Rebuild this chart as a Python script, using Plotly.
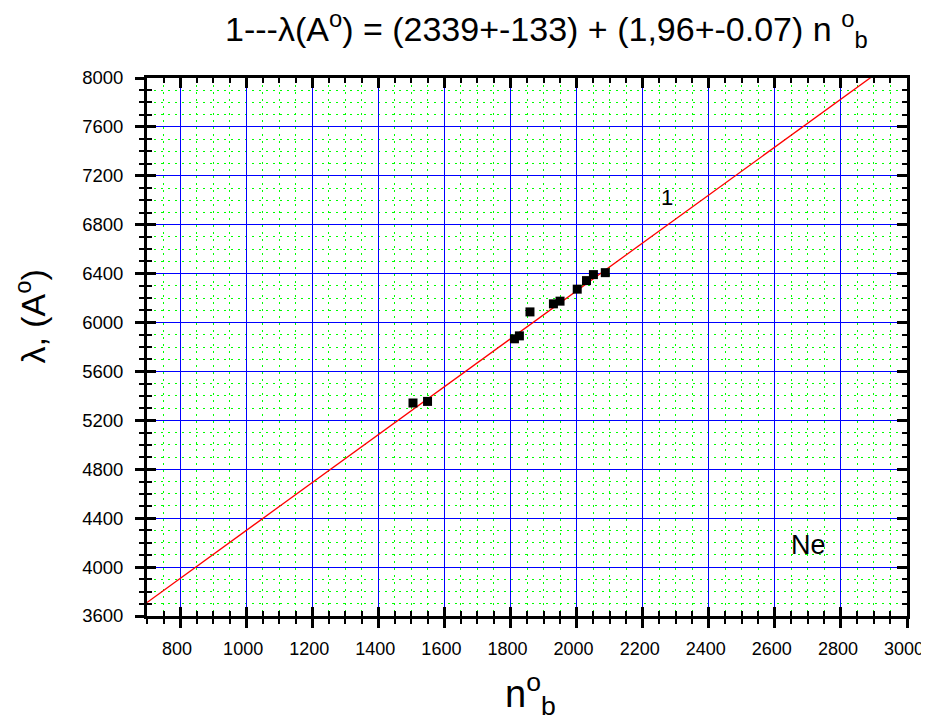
import plotly.graph_objects as go

# Data
n_b = [1505, 1549, 1812, 1827, 1859, 1930, 1950, 2002, 2030, 2051, 2087]
wavelength = [5342, 5355, 5867, 5891, 6087, 6153, 6175, 6273, 6343, 6392, 6408]

# Linear fit stated in the title: lambda = 2339 + 1.96 * n
fit_intercept = 2339
fit_slope = 1.96
fit_x = [700, 3000]
fit_y = [fit_intercept + fit_slope * v for v in fit_x]

x_range = [700, 3000]
y_range = [3600, 8000]

FONT = "Liberation Sans, Arial, sans-serif"

fig = go.Figure()
fig.add_trace(go.Scatter(x=fit_x, y=fit_y, mode="lines",
                         line=dict(color="#ff0000", width=1.3),
                         showlegend=False, hoverinfo="skip"))
fig.add_trace(go.Scatter(x=n_b, y=wavelength, mode="markers",
                         marker=dict(symbol="square", size=9, color="black"),
                         showlegend=False))

grid_major = dict(showgrid=True, gridcolor="#0000ff", gridwidth=1)
minor_x = dict(dtick=50, ticks="outside", ticklen=5, tickwidth=2, tickcolor="black",
               showgrid=True, gridcolor="#00ff00", gridwidth=1, griddash="2px,5px")
minor_y = dict(dtick=100, ticks="outside", ticklen=5, tickwidth=2, tickcolor="black",
               showgrid=True, gridcolor="#00ff00", gridwidth=1, griddash="2px,5px")

fig.update_layout(
    width=921, height=709,
    margin=dict(l=139, r=22, t=70, b=101, autoexpand=False),
    paper_bgcolor="white", plot_bgcolor="white",
    font=dict(family=FONT, color="black"),
    xaxis=dict(range=x_range, tick0=800, dtick=200, ticks="outside", ticklen=9,
               tickwidth=3, tickcolor="black", showline=True, linecolor="black",
               linewidth=3, zeroline=False, tickfont=dict(size=18),
               ticklabelstandoff=5, ticklabelshift=-3, ticklabeloverflow="allow",
               automargin=False, minor=minor_x, **grid_major),
    yaxis=dict(range=y_range, tick0=3600, dtick=400, ticks="outside", ticklen=9,
               tickwidth=3, tickcolor="black", showline=True, linecolor="black",
               linewidth=3, zeroline=False, tickfont=dict(size=18.5),
               ticklabelstandoff=8, ticklabeloverflow="allow", automargin=False,
               minor=minor_y, **grid_major),
    # inner halves of crossing ticks on bottom / left
    xaxis2=dict(overlaying="x", side="bottom", range=x_range, tick0=800, dtick=200,
                ticks="inside", ticklen=9, tickwidth=3, tickcolor="black",
                showticklabels=False, showgrid=False, zeroline=False, showline=False,
                automargin=False,
                minor=dict(dtick=50, ticks="inside", ticklen=5, tickwidth=2,
                           tickcolor="black")),
    yaxis2=dict(overlaying="y", side="left", range=y_range, tick0=3600, dtick=400,
                ticks="inside", ticklen=9, tickwidth=3, tickcolor="black",
                showticklabels=False, showgrid=False, zeroline=False, showline=False,
                automargin=False,
                minor=dict(dtick=100, ticks="inside", ticklen=5, tickwidth=2,
                           tickcolor="black")),
    # top / right frame with inward ticks
    xaxis3=dict(overlaying="x", side="top", range=x_range, tick0=800, dtick=200,
                ticks="inside", ticklen=10, tickwidth=3, tickcolor="black",
                showticklabels=False, showgrid=False, zeroline=False, showline=True,
                linecolor="black", linewidth=3, automargin=False,
                minor=dict(dtick=50, ticks="inside", ticklen=5, tickwidth=2,
                           tickcolor="black")),
    yaxis3=dict(overlaying="y", side="right", range=y_range, tick0=3600, dtick=400,
                ticks="inside", ticklen=10, tickwidth=3, tickcolor="black",
                showticklabels=False, showgrid=False, zeroline=False, showline=True,
                linecolor="black", linewidth=3, automargin=False,
                minor=dict(dtick=100, ticks="inside", ticklen=5, tickwidth=2,
                           tickcolor="black")),
)

# invisible traces so the overlay axes are rendered
for xa, ya in [("x2", "y2"), ("x3", "y3")]:
    fig.add_trace(go.Scatter(x=[None], y=[None], xaxis=xa, yaxis=ya,
                             showlegend=False, hoverinfo="skip"))

fig.add_annotation(
    text="1---λ(A<sup>o</sup>) = (2339+-133) + (1,96+-0.07) n <sup>o</sup><sub>b</sub>",
    xref="paper", yref="paper", x=0.525, y=1.092, xanchor="center", yanchor="middle",
    showarrow=False, font=dict(size=34, family=FONT))
fig.add_annotation(
    text="n<sup>o</sup><sub>b</sub>",
    xref="paper", yref="paper", x=0.505, y=-0.145, xanchor="center", yanchor="middle",
    showarrow=False, font=dict(size=38, family=FONT))
fig.add_annotation(
    text="λ, (A<sup>o</sup>)", textangle=-90,
    xref="paper", yref="paper", x=-0.153, y=0.556, xanchor="center", yanchor="middle",
    showarrow=False, font=dict(size=34, family=FONT))
fig.add_annotation(text="1", x=2274, y=7020, showarrow=False,
                   font=dict(size=22, family=FONT))
fig.add_annotation(text="Ne", x=2701, y=4178, showarrow=False,
                   font=dict(size=27, family=FONT))

fig.write_html("out.html")
